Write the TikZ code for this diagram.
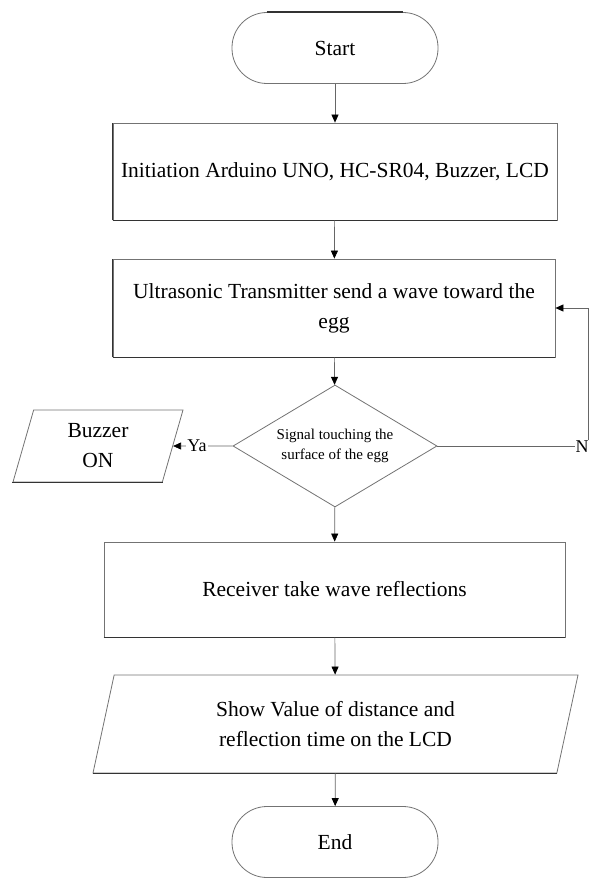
\documentclass[tikz,border=0pt]{standalone}
\usepackage{fontspec}
\setmainfont{Liberation Serif}
\usetikzlibrary{shapes.geometric,arrows.meta,calc}
\tikzset{
  box/.style={draw=black!55, line width=0.8pt, align=center,
    font=\fontsize{21.5}{30}\selectfont, inner sep=0pt, fill=white},
  term/.style={box, rectangle, rounded corners=35pt, minimum width=206pt, minimum height=71pt},
  proc/.style={box, rectangle},
  io/.style={box, trapezium, trapezium left angle=65, trapezium right angle=115,
    trapezium stretches body},
  decis/.style={box, diamond, font=\fontsize{15}{20}\selectfont, inner sep=-8pt,
    minimum width=204pt, minimum height=122pt},
  edge/.style={draw=black!80, line width=1.6pt},
  flow/.style={draw=black!60, line width=0.7pt,
    -{Triangle[length=8pt,width=7pt,color=black]}},
  lbl/.style={fill=white, inner sep=1pt, font=\fontsize{18}{20}\selectfont},
}
\begin{document}
\begin{tikzpicture}[x=1pt,y=-1pt]
\useasboundingbox (0,0) rectangle (589,880);

\node[term] (start) at (335,48) {Start};
\node[proc, minimum width=444pt, minimum height=97pt] (init) at (335,171.5)
  {Initiation Arduino UNO, HC-SR04, Buzzer, LCD};
\node[proc, minimum width=442pt, minimum height=98pt] (ultra) at (334,308)
  {Ultrasonic Transmitter send a wave toward the\\egg};
\node[decis] (dec) at (335,446) {Signal touching the\\surface of the egg};
\node[io, minimum width=170pt, minimum height=72pt] (buzz) at (98,446) {Buzzer\\ON};
\node[proc, minimum width=461pt, minimum height=95pt] (recv) at (334.5,589.5)
  {Receiver take wave reflections};
\node[io, minimum width=485pt, minimum height=98pt] (show) at (335.5,724)
  {Show Value of distance and\\reflection time on the LCD};
\node[term] (end) at (335,842) {End};

% darker edges
\draw[edge] ($(start.north west)+(35,0)$) -- ($(start.north east)+(-35,0)$);
\draw[edge] (init.south west) -- (init.south east);
\draw[edge] (init.south west) -- (init.north west);
\draw[edge] (ultra.south west) -- (ultra.south east);
\draw[edge] (ultra.south west) -- (ultra.north west);
\draw[edge] (recv.south west) -- (recv.south east);
\draw[edge] (show.bottom left corner) -- (show.bottom right corner);
\draw[edge] (buzz.bottom left corner) -- (buzz.bottom right corner);

% connectors
\draw[flow] (start) -- (init);
\draw[flow] (init) -- (ultra);
\draw[flow] (ultra) -- (dec);
\draw[flow] (dec) -- (recv);
\draw[flow] (recv) -- (show);
\draw[flow] (show) -- (end);
\draw[flow] (dec.west) -- (buzz);
\coordinate (corner) at (588,446);
\draw[flow] (dec.east) -- (corner) |- (ultra.east);
\node[lbl] (ya) at (197,446) {Ya};
\node[lbl] (no) at (582,447) {N};
\end{tikzpicture}
\end{document}
